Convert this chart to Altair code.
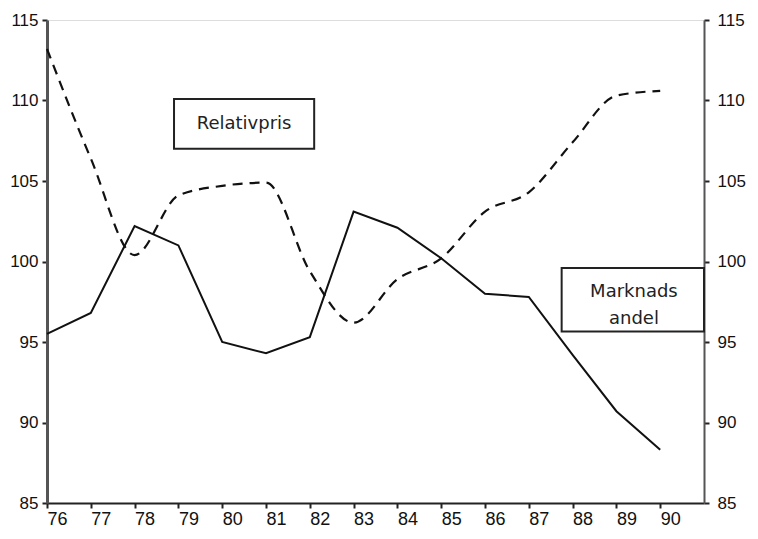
import altair as alt
import pandas as pd

years = list(range(76, 91))
marknadsandel = [95.5, 96.8, 102.2, 101.0, 95.0, 94.3, 95.3, 103.1, 102.1, 100.2, 98.0, 97.8, 94.2, 90.7, 88.3]
relativpris = [113.2, 106.4, 100.4, 104.1, 104.7, 104.9, 99.4, 96.2, 98.9, 100.2, 103.1, 104.3, 107.4, 110.3, 110.6]
y_ticks = [85, 90, 95, 100, 105, 110, 115]

df = pd.DataFrame({"year": years, "Marknadsandel": marknadsandel, "Relativpris": relativpris})

boxes = pd.DataFrame({
    "x": [78.9, 87.75],
    "x2": [82.1, 91.0],
    "y": [110.1, 99.6],
    "y2": [107.0, 95.65],
})
labels = pd.DataFrame({
    "x": [80.5, 89.4, 89.4],
    "y": [108.55, 98.1, 96.45],
    "text": ["Relativpris", "Marknads", "andel"],
})

FONT = "Liberation Sans"
BOXFONT = "DejaVu Sans"
xscale = alt.Scale(domain=[76, 91], nice=False, zero=False)
yscale = alt.Scale(domain=[85, 115], nice=False, zero=False)

xaxis = alt.Axis(values=years, format="d", title=None, grid=False, tickSize=5,
                 labelFontSize=18, labelFont=FONT, labelColor="#111", labelPadding=2,
                 labelAlign="left", labelFlush=False, labelOverlap=False, labelBound=False,
                 domainColor="#222", domainWidth=2, tickColor="#222", tickWidth=2)
yaxis_left = alt.Axis(values=y_ticks, title=None, grid=False, tickSize=5, orient="left",
                      labelFontSize=17, labelFont=FONT, labelColor="#111", labelPadding=4,
                      domainColor="#555", domainWidth=3, tickColor="#222", tickWidth=2)
yaxis_right = alt.Axis(values=y_ticks, title=None, grid=False, tickSize=5, orient="right",
                       labelFontSize=17, labelFont=FONT, labelColor="#111", labelPadding=8,
                       domainColor="#555", domainWidth=2, tickColor="#222", tickWidth=2)

solid = alt.Chart(df).mark_line(color="#111", strokeWidth=2).encode(
    x=alt.X("year:Q", scale=xscale, axis=xaxis),
    y=alt.Y("Marknadsandel:Q", scale=yscale, axis=yaxis_left),
)
dashed = alt.Chart(df).mark_line(color="#111", strokeWidth=2.2, strokeDash=[10, 7],
                                 interpolate="monotone").encode(
    x=alt.X("year:Q", scale=xscale),
    y=alt.Y("Relativpris:Q", scale=yscale, axis=yaxis_right),
)
rects = alt.Chart(boxes).mark_rect(fill="white", stroke="#222", strokeWidth=2).encode(
    x=alt.X("x:Q", scale=xscale), x2="x2:Q",
    y=alt.Y("y:Q", scale=yscale), y2="y2:Q",
)
texts = alt.Chart(labels).mark_text(font=BOXFONT, fontSize=18, color="#222", align="center",
                                    baseline="middle").encode(
    x=alt.X("x:Q", scale=xscale),
    y=alt.Y("y:Q", scale=yscale),
    text="text:N",
)

left = alt.layer(solid, rects, texts)
chart = alt.layer(left, dashed).resolve_scale(y="independent").properties(
    width=657, height=483,
    autosize=alt.AutoSizeParams(type="none"),
    padding={"left": 39, "top": 12, "right": 46, "bottom": 28},
).configure_view(strokeWidth=0).configure(background="white")

chart.save("out.html", embed_options={"renderer": "svg", "actions": False})
